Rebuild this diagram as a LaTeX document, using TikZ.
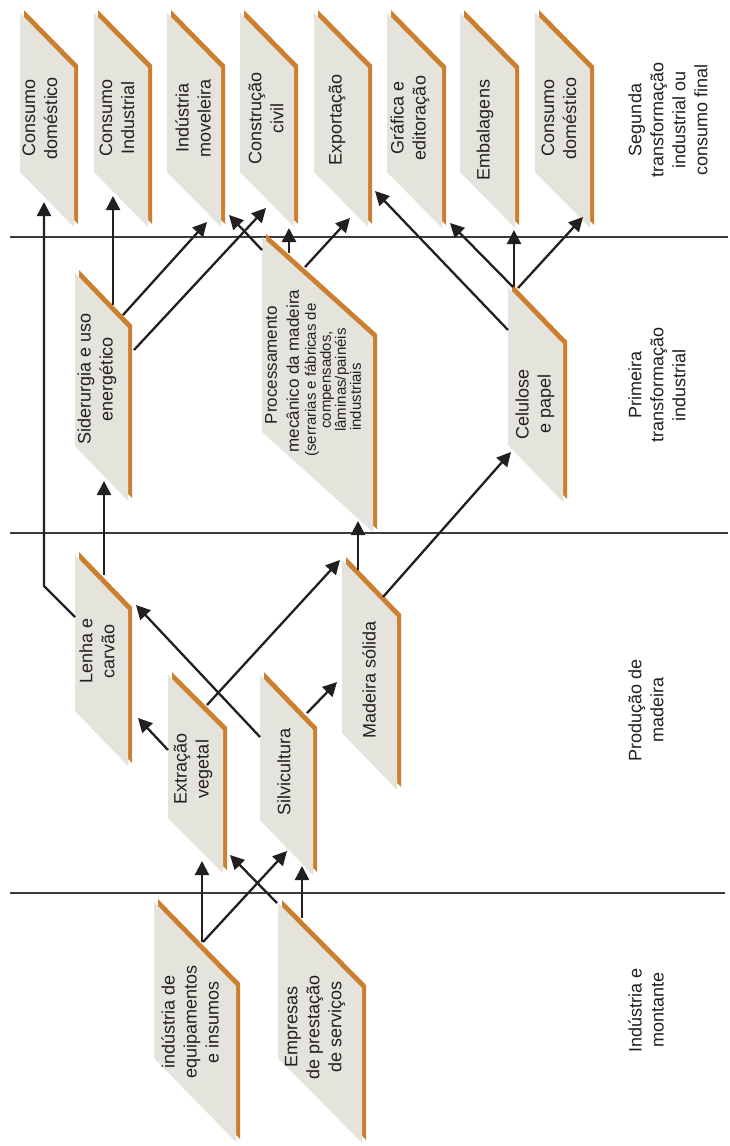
\documentclass[tikz,border=0pt]{standalone}
\usepackage{fontspec}
\setmainfont{Liberation Sans}
\usetikzlibrary{arrows.meta}
\definecolor{orng}{HTML}{CC7F2F}
\definecolor{facegray}{HTML}{E4E3DC}
\definecolor{ink}{HTML}{231F20}
\definecolor{rule}{HTML}{3C3C3C}
% parallelogram panel: x y w h(slant) H(left height)
\newcommand\pshape[5]{%
  \fill[orng] (#1+4,#2-3) -- ++(#3,#4) -- ++(0,#5) -- ++(-#3,-#4) -- cycle;
  \fill[facegray] (#1,#2) -- ++(#3,#4) -- ++(0,#5) -- ++(-#3,-#4) -- cycle;}
\begin{document}
\begin{tikzpicture}[x=1pt,y=-1pt,
  lbl/.style={rotate=90, align=center, text=ink, inner sep=0pt, font=\fontsize{18}{22}\selectfont},
  arr/.style={draw=ink, line width=2.3pt, -{Triangle[length=14pt,width=14pt]}},
  sep/.style={draw=rule, line width=1.1pt}]
\fill[white] (0,0) rectangle (729,1146);
\useasboundingbox (0,0) rectangle (729,1146);
% separators
\draw[sep] (10,237) -- (728,237);
\draw[sep] (10,533) -- (728,533);
\draw[sep] (10,893) -- (725,893);
% panels
\pshape{20}{13}{54}{55}{159}
\pshape{94}{13}{54}{55}{159}
\pshape{167}{13}{54}{55}{159}
\pshape{240}{13}{54}{55}{159}
\pshape{314}{13}{54}{55}{159}
\pshape{387}{13}{55}{56}{159}
\pshape{460}{13}{55}{56}{159}
\pshape{535}{13}{55}{56}{159}
\pshape{75}{273}{53}{55}{173}
\pshape{262}{237}{111}{100}{195}
\pshape{508}{287}{55}{57}{158}
\pshape{75}{555}{53}{55}{156}
\pshape{168}{675}{55}{55}{143}
\pshape{260}{675}{53}{55}{145}
\pshape{342}{560}{55}{57}{173}
\pshape{154}{902}{82}{84}{156}
\pshape{278}{903}{84}{85}{155}
% panel texts
\node[lbl] (cd1) at (40,118) {Consumo\\doméstico};
\node[lbl] (ci) at (117,118) {Consumo\\Industrial};
\node[lbl] (im) at (193,118) {Indústria\\moveleira};
\node[lbl] (cc) at (266,118) {Construção\\civil};
\node[lbl] (ex) at (337,120) {Exportação};
\node[lbl] (ge) at (410,118) {Gráfica e\\editoração};
\node[lbl] (em) at (485,130) {Embalagens};
\node[lbl] (cd2) at (559,118) {Consumo\\doméstico};
\node[lbl] (si) at (97,379) {Siderurgia e uso\\energético};
\node[lbl, font=\fontsize{15}{15}\selectfont] (pm) at (313,380)
  {{\fontsize{17}{17}\selectfont\hspace*{30pt}Processamento}\\[7pt]
   {\fontsize{17}{17}\selectfont\hspace*{18pt}mecânico da madeira}\\[2pt]
   (serrarias e fábricas de\\
   compensados,\hspace*{44pt}\\
   lâminas/painéis\hspace*{34pt}\\
   industriais\hspace*{34pt}};
\node[lbl] (cp) at (535,404) {Celulose\\e papel};
\node[lbl] (lc) at (97,651) {Lenha e\\carvão};
\node[lbl] (ev) at (193,769) {Extração\\vegetal};
\node[lbl] (sv) at (284,772) {Silvicultura};
\node[lbl] (ms) at (369,680) {Madeira sólida};
\node[lbl] (ie) at (190,1022) {indústria de\\equipamentos\\e insumos};
\node[lbl] (ep) at (315,1027) {Empresas\\de prestação\\de serviços};
% stage labels
\node[lbl] (st1) at (668,120) {Segunda\\transformação\\industrial ou\\consumo final};
\node[lbl] (st2) at (657,385) {Primeira\\transformação\\industrial};
\node[lbl] (st3) at (646,710) {Produção de\\madeira};
\node[lbl] (st4) at (646,1010) {Indústria e\\montante};
% connector end points
\coordinate (ie1) at (202,942); \coordinate (ev1) at (202,861);
\coordinate (ie2) at (203,942); \coordinate (sv1) at (287,851);
\coordinate (ep1) at (277,903); \coordinate (ev2) at (230,855);
\coordinate (ep2) at (302,918); \coordinate (sv2) at (302,866);
\coordinate (ev3) at (168,750); \coordinate (lc1) at (138,718);
\coordinate (ev4) at (207,705); \coordinate (ms1) at (340,560);
\coordinate (sv3) at (307,713); \coordinate (ms2) at (337,682);
\coordinate (sv4) at (260,737); \coordinate (lc2) at (136,605);
\coordinate (lc3) at (104,575); \coordinate (si1) at (104,481);
\coordinate (lc4) at (75,617);  \coordinate (bend) at (44,586); \coordinate (cd1a) at (44,202);
\coordinate (ms3) at (358,570); \coordinate (pm1) at (358,521);
\coordinate (ms4) at (383,597); \coordinate (cp1) at (511,452);
\coordinate (si2) at (113,305); \coordinate (ci1) at (113,196);
\coordinate (si3) at (123,315); \coordinate (im1) at (207,222);
\coordinate (si4) at (134,350); \coordinate (cc1) at (266,208);
\coordinate (pm2) at (262,250); \coordinate (im2) at (229,215);
\coordinate (pm3) at (289,253); \coordinate (cc2) at (289,228);
\coordinate (pm4) at (305,267); \coordinate (ex1) at (350,218);
\coordinate (cp2) at (508,330); \coordinate (ex2) at (375,191);
\coordinate (cp3) at (513,287); \coordinate (ge1) at (450,223);
\coordinate (cp4) at (514,287); \coordinate (em1) at (514,230);
\coordinate (cp5) at (518,288); \coordinate (cd2a) at (583,217);
% connectors
\draw[arr] (ie1) -- (ev1);
\draw[arr] (ie2) -- (sv1);
\draw[arr] (ep1) -- (ev2);
\draw[arr] (ep2) -- (sv2);
\draw[arr] (ev3) -- (lc1);
\draw[arr] (ev4) -- (ms1);
\draw[arr] (sv3) -- (ms2);
\draw[arr] (sv4) -- (lc2);
\draw[arr] (lc3) -- (si1);
\draw[arr] (lc4) -- (bend) -- (cd1a);
\draw[arr] (ms3) -- (pm1);
\draw[arr] (ms4) -- (cp1);
\draw[arr] (si2) -- (ci1);
\draw[arr] (si3) -- (im1);
\draw[arr] (si4) -- (cc1);
\draw[arr] (pm2) -- (im2);
\draw[arr] (pm3) -- (cc2);
\draw[arr] (pm4) -- (ex1);
\draw[arr] (cp2) -- (ex2);
\draw[arr] (cp3) -- (ge1);
\draw[arr] (cp4) -- (em1);
\draw[arr] (cp5) -- (cd2a);
\end{tikzpicture}
\end{document}
